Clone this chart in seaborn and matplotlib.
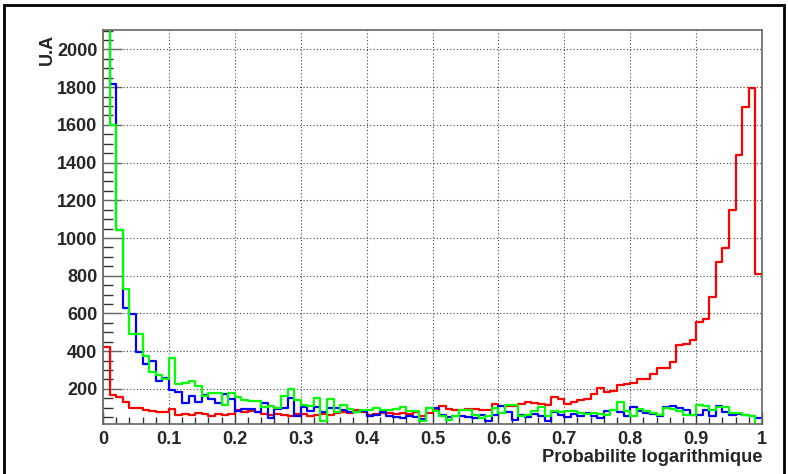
import numpy as np
import pandas as pd
import matplotlib
matplotlib.use("Agg")
import matplotlib.pyplot as plt
import seaborn as sns
from matplotlib.patches import Rectangle
from matplotlib.ticker import MultipleLocator, FixedLocator

# 100 bins of width 0.01 on [0, 1]
edges = list(np.linspace(0, 1, 101))
centers = [(a + b) / 2 for a, b in zip(edges[:-1], edges[1:])]

red = [
    423, 168, 158, 129, 101, 100, 90, 83, 78, 78,
    94, 64, 65, 64, 71, 69, 55, 69, 60, 67,
    87, 78, 81, 76, 67, 64, 69, 62, 58, 65,
    69, 55, 64, 67, 64, 72, 78, 72, 90, 76,
    64, 69, 72, 72, 67, 72, 69, 76, 58, 72,
    88, 108, 92, 90, 88, 92, 92, 90, 86, 118,
    108, 112, 112, 118, 130, 124, 120, 116, 158, 145,
    122, 130, 143, 148, 172, 207, 184, 190, 220, 227,
    232, 253, 250, 278, 312, 312, 343, 432, 437, 462,
    556, 573, 688, 871, 945, 1147, 1442, 1697, 1795, 808]

blue = [
    2300, 1817, 1040, 630, 595, 396, 330, 350, 242, 260,
    193, 183, 125, 162, 128, 166, 144, 125, 175, 144,
    81, 94, 94, 80, 124, 48, 92, 97, 154, 55,
    103, 84, 105, 75, 97, 97, 88, 76, 79, 84,
    55, 60, 75, 55, 51, 44, 55, 51, 42, 101,
    99, 64, 50, 55, 58, 51, 46, 64, 28, 64,
    108, 76, 37, 64, 51, 69, 58, 28, 76, 64,
    50, 67, 58, 72, 58, 46, 81, 90, 76, 58,
    103, 81, 72, 69, 58, 103, 108, 99, 90, 64,
    64, 90, 55, 112, 76, 64, 69, 64, 55, 46]

green = [
    2600, 1601, 1041, 731, 490, 490, 373, 290, 276, 250,
    365, 225, 232, 241, 218, 165, 179, 179, 113, 179,
    158, 140, 135, 134, 104, 112, 100, 165, 198, 143,
    114, 110, 154, 30, 146, 75, 114, 92, 80, 90,
    86, 99, 90, 87, 94, 103, 83, 81, 30, 99,
    81, 55, 37, 58, 90, 90, 64, 46, 55, 99,
    72, 117, 117, 55, 64, 81, 103, 55, 81, 76,
    81, 81, 72, 67, 72, 67, 64, 90, 129, 81,
    58, 94, 81, 72, 64, 99, 94, 81, 64, 64,
    117, 108, 90, 103, 104, 72, 72, 64, 55, 5]

x_ticks = [0, 0.1, 0.2, 0.3, 0.4, 0.5, 0.6, 0.7, 0.8, 0.9, 1]
x_labels = ["0", "0.1", "0.2", "0.3", "0.4", "0.5", "0.6", "0.7", "0.8", "0.9", "1"]
y_ticks = [200, 400, 600, 800, 1000, 1200, 1400, 1600, 1800, 2000]

sns.set_theme(style="white")
plt.rcParams["font.family"] = ["Liberation Sans", "DejaVu Sans"]
plt.rcParams["font.weight"] = "bold"

fig = plt.figure(figsize=(7.88, 4.74), dpi=100)
ax = fig.add_axes([103 / 788, 1 - 424 / 474, 659 / 788, 394 / 474])

for vals, col in [(red, "#ff0000"), (blue, "#0000ff"), (green, "#00ff00")]:
    df = pd.DataFrame({"prob": centers, "count": vals})
    sns.histplot(data=df, x="prob", weights="count", bins=edges, element="step",
                 fill=False, color=col, linewidth=1.6, ax=ax)

ax.set_xlim(0, 1)
ax.set_ylim(14, 2103)

ax.xaxis.set_major_locator(FixedLocator(x_ticks))
ax.set_xticklabels(x_labels)
ax.xaxis.set_minor_locator(MultipleLocator(0.02))
ax.yaxis.set_major_locator(FixedLocator(y_ticks))
ax.yaxis.set_minor_locator(MultipleLocator(50))

ax.grid(True, which="major", color="#444444", linestyle=(0, (1, 2)), linewidth=0.8)
ax.set_axisbelow(True)

ax.tick_params(axis="x", which="major", direction="in", length=9, width=1,
               color="#333333", labelsize=13, pad=5, bottom=True, top=False)
ax.tick_params(axis="x", which="minor", direction="in", length=5, width=1,
               color="#333333", bottom=True, top=False)
ax.tick_params(axis="y", which="major", direction="in", length=14, width=1,
               color="#666666", labelsize=13, pad=4, left=True, right=False)
ax.tick_params(axis="y", which="minor", direction="in", length=7.5, width=1,
               color="#333333", left=True, right=False)
for lab in ax.get_xticklabels() + ax.get_yticklabels():
    lab.set_fontweight("bold")

for s in ax.spines.values():
    s.set_visible(True)
    s.set_color("#666666")
    s.set_linewidth(1.2)

ax.set_xlabel("Probabilite logarithmique", loc="right", fontsize=13.2,
              fontweight="bold", labelpad=1)
ax.set_ylabel("U.A", loc="top", fontsize=13, fontweight="bold")
ax.yaxis.set_label_coords(-0.072, 0.99)

# canvas border
fig.patches.append(Rectangle((4 / 788, -0.05), 780 / 788, 1.05 - 5 / 474,
                             transform=fig.transFigure, fill=False,
                             edgecolor="black", linewidth=2))

fig.savefig("out.png", dpi=100)
